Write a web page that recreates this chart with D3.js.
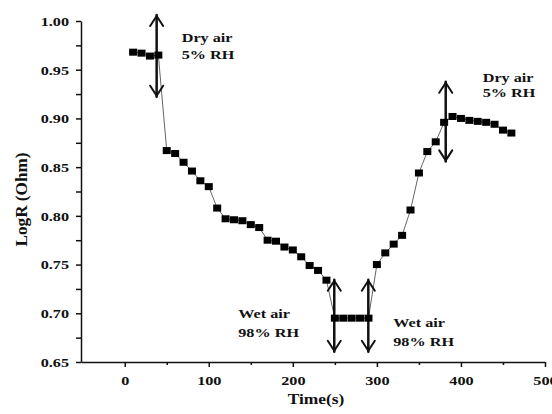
<!DOCTYPE html>
<html>
<head>
<meta charset="utf-8">
<script src="https://cdn.jsdelivr.net/npm/d3@7"></script>
<style>
  html, body { margin: 0; padding: 0; background: #fff; }
  svg { display: block; }
  text { font-family: "Liberation Serif", "Times New Roman", serif; font-weight: bold; fill: #111; }
</style>
</head>
<body>
<svg id="chart" width="552" height="414"></svg>
<script>
// Response of the sensor: log resistance versus time under dry / wet air
const time = [10, 20, 30, 40, 50, 60, 70, 80, 90, 100, 110, 120, 130, 140, 150, 160,
  170, 180, 190, 200, 210, 220, 230, 240, 250, 260, 270, 280, 290, 300, 310, 320,
  330, 340, 350, 360, 370, 380, 390, 400, 410, 420, 430, 440, 450, 460];
const logR = [0.968, 0.967, 0.964, 0.965, 0.867, 0.864, 0.855, 0.846, 0.836, 0.830,
  0.808, 0.797, 0.796, 0.795, 0.791, 0.788, 0.775, 0.774, 0.768, 0.765, 0.758, 0.749,
  0.744, 0.734, 0.695, 0.695, 0.695, 0.695, 0.695, 0.750, 0.762, 0.771, 0.780, 0.806,
  0.844, 0.866, 0.876, 0.896, 0.902, 0.900, 0.898, 0.897, 0.896, 0.894, 0.888, 0.885];

const xTicks = [0, 100, 200, 300, 400, 500];
const xMinorTicks = [50, 150, 250, 350, 450];
const yTicks = [0.65, 0.70, 0.75, 0.80, 0.85, 0.90, 0.95, 1.00];
const yMinorTicks = [0.675, 0.725, 0.775, 0.825, 0.875, 0.925, 0.975];

// Switching events: double arrows (time, top, bottom)
const arrowTime = [38, 249.3, 289.8, 381.9];
const arrowTop = [1.0062, 0.7345, 0.7345, 0.9377];
const arrowBottom = [0.9223, 0.6605, 0.6605, 0.8559];

// Condition labels (two lines each)
const labelLine1 = ["Dry air", "Wet air", "Wet air", "Dry air"];
const labelLine2 = ["5% RH", "98% RH", "98% RH", "5% RH"];
const labelTime = [67.8, 135.1, 319.5, 425.9];
const labelValue1 = [0.9784, 0.6948, 0.6860, 0.9377];
const labelValue2 = [0.9610, 0.6753, 0.6668, 0.9223];

const xLabel = "Time(s)";
const yLabel = "LogR (Ohm)";

const SX = 1.2; // horizontal stretch of the serif lettering

const svg = d3.select("#chart");
const x = d3.scaleLinear().domain([-52, 500]).range([81, 545]);
const y = d3.scaleLinear().domain([0.65, 1.00]).range([362, 21]);

// X axis
const gx = svg.append("g").attr("transform", `translate(0,${y(0.65)})`)
  .call(d3.axisBottom(x).tickValues(xTicks).tickFormat(d3.format("d"))
    .tickSize(5).tickSizeOuter(0).tickPadding(8));
svg.append("g").attr("transform", `translate(0,${y(0.65)})`)
  .call(d3.axisBottom(x).tickValues(xMinorTicks).tickFormat("").tickSize(3).tickSizeOuter(0))
  .call(g => g.select(".domain").remove());

// Y axis
const gy = svg.append("g").attr("transform", `translate(${x(-52)},0)`)
  .call(d3.axisLeft(y).tickValues(yTicks).tickFormat(d3.format(".2f"))
    .tickSize(5).tickSizeOuter(0).tickPadding(7));
svg.append("g").attr("transform", `translate(${x(-52)},0)`)
  .call(d3.axisLeft(y).tickValues(yMinorTicks).tickFormat("").tickSize(5).tickSizeOuter(0))
  .call(g => g.select(".domain").remove());

svg.selectAll(".domain, .tick line").attr("stroke", "#111").attr("stroke-width", 1.5);
gx.selectAll("text").attr("font-size", 13.5).attr("font-family", null)
  .attr("transform", `scale(${SX},1)`).attr("fill", "#111");
gy.selectAll("text").attr("font-size", 13.5).attr("font-family", null)
  .attr("x", -12 / SX).attr("transform", `scale(${SX},1)`).attr("fill", "#111");

// Axis titles
svg.append("g").attr("transform", `translate(${(x(-52) + x(500)) / 2 + 3},404) scale(${SX},1)`)
  .append("text").attr("text-anchor", "middle").attr("font-size", 14.5).text(xLabel);
svg.append("text")
  .attr("transform", `translate(27,${(y(0.65) + y(1.0)) / 2 + 8}) rotate(-90)`)
  .attr("text-anchor", "middle").attr("font-size", 16)
  .attr("textLength", 94).attr("lengthAdjust", "spacingAndGlyphs")
  .text(yLabel);

// Data line and markers
const pts = time.map((t, i) => [t, logR[i]]);
svg.append("path").datum(pts)
  .attr("fill", "none").attr("stroke", "#666").attr("stroke-width", 1)
  .attr("d", d3.line().x(d => x(d[0])).y(d => y(d[1])));

// Double-headed arrows
const arrows = svg.append("g").attr("stroke", "#111").attr("fill", "none")
  .attr("stroke-width", 2.5).attr("stroke-linecap", "round").attr("stroke-linejoin", "round");
arrowTime.forEach((t, i) => {
  const ax = x(t), y1 = y(arrowTop[i]), y2 = y(arrowBottom[i]);
  arrows.append("path").attr("d", `M${ax},${y1}V${y2}`);
  arrows.append("path").attr("stroke-width", 2)
    .attr("d", `M${ax - 6.5},${y1 + 11}L${ax},${y1 + 1}L${ax + 6.5},${y1 + 11}`);
  arrows.append("path").attr("stroke-width", 2)
    .attr("d", `M${ax - 6.5},${y2 - 11}L${ax},${y2 - 1}L${ax + 6.5},${y2 - 11}`);
});

svg.append("g").selectAll("rect").data(pts).join("rect")
  .attr("x", d => x(d[0]) - 4).attr("y", d => y(d[1]) - 3.5)
  .attr("width", 8).attr("height", 7).attr("fill", "#000");

// Condition labels
labelTime.forEach((t, i) => {
  svg.append("g").attr("transform", `translate(${x(t)},${y(labelValue1[i])}) scale(${SX},1)`)
    .append("text").attr("font-size", 13.5).text(labelLine1[i]);
  svg.append("g").attr("transform", `translate(${x(t)},${y(labelValue2[i])}) scale(${SX},1)`)
    .append("text").attr("font-size", 13.5).text(labelLine2[i]);
});
</script>
</body>
</html>
